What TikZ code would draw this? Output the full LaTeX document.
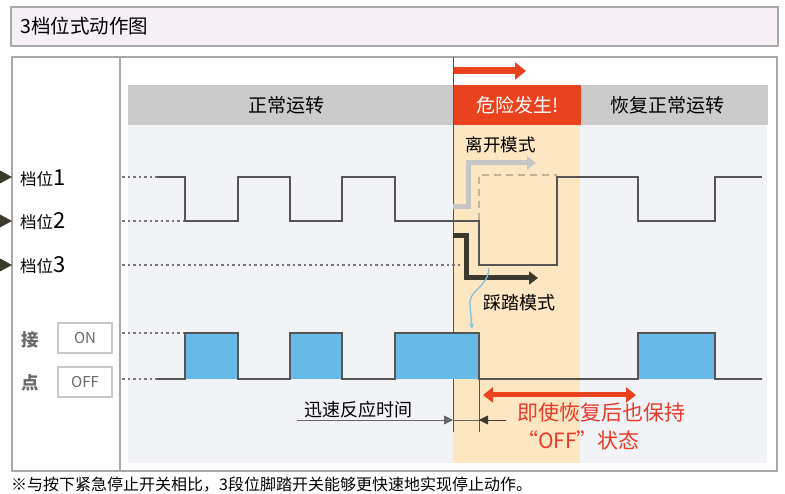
\documentclass[tikz,border=0pt]{standalone}
\usepackage{fontspec}
\setmainfont{Noto Sans CJK SC}
\usetikzlibrary{arrows.meta,positioning,calc}
\definecolor{cTitleBg}{HTML}{F6F0F6}
\definecolor{cFrame}{HTML}{A9A9A9}
\definecolor{cHead}{HTML}{CBCBCB}
\definecolor{cDanger}{HTML}{E8431E}
\definecolor{cPeach}{HTML}{FDE6C2}
\definecolor{cChart}{HTML}{F1F3F6}
\definecolor{cWave}{HTML}{555555}
\definecolor{cOn}{HTML}{67BAE7}
\definecolor{cLeave}{HTML}{C6C6C6}
\definecolor{cPedal}{HTML}{3B3A2C}
\definecolor{cAlert}{HTML}{E83A2A}
\definecolor{cSky}{HTML}{7CC3E4}
\definecolor{cBox}{HTML}{C8C8C8}
\definecolor{cGrey}{HTML}{6A6A6A}
\newcommand{\fsz}[1]{\fontsize{#1}{#1}\selectfont}
\newcommand{\gear}[1]{{\fsz{16.5}档位}{\fsz{22}#1}}

\begin{document}
\begin{tikzpicture}[x=1pt, y=-1pt, font=\fsz{16},
    bar/.style={minimum height=40pt, inner sep=0pt, anchor=north west, font=\fsz{19}},
    wave/.style={draw=cWave, line width=1.6pt, line join=miter},
    guide/.style={draw=cWave!80, line width=1.4pt, dash pattern=on 2.5pt off 3pt},
    onbox/.style={draw=cBox, line width=1.2pt, minimum width=54pt, minimum height=30pt,
                  inner sep=0pt, text=cGrey, font=\fsz{15}},
    thin/.style={draw=cWave!90, line width=0.9pt},
  ]
  \useasboundingbox (0,0) rectangle (785,494);
  % title
  \node[draw=cFrame, line width=2pt, fill=cTitleBg, minimum width=767pt,
        minimum height=39pt, anchor=north west] (titlebox) at (10,6) {};
  \node[anchor=west, font=\fsz{19.5}] (title) at ([xshift=7pt]titlebox.west) {3档位式动作图};
  % frame
  \draw[cFrame, line width=1.5pt, fill=white] (12,57) rectangle (777,471);
  \draw[cFrame, line width=1.2pt] (120,57) -- (120,471);
  \fill[cChart] (128,125) rectangle (767,463);
  % phase bars
  \node[bar, fill=cHead, minimum width=325pt] (normal) at (128,85) {\hspace*{-8pt}正常运转};
  \node[bar, fill=cDanger, text=white, minimum width=127pt, right=0pt of normal] (danger) {危险发生!};
  \node[bar, fill=cHead, minimum width=187pt, right=0pt of danger] (recover) {\hspace*{-14pt}恢复正常运转};
  \fill[cPeach] (danger.south west) rectangle (580,463);
  \coordinate (rs) at (453,71);
  \coordinate (re) at (526,71);
  \draw[cDanger, line width=7pt, -{Triangle[length=11pt,width=17pt]}] (rs) -- (re);
  \draw[cWave, line width=1pt] (453,57) -- (453,432);
  \draw[cWave, line width=1pt] (479,379) -- (479,432);
  % gear labels
  \node[anchor=base west, inner sep=0pt] (g1) at (20,186) {\gear{1}};
  \node[anchor=base west, inner sep=0pt] (g2) at (20,229) {\gear{2}};
  \node[anchor=base west, inner sep=0pt] (g3) at (20,273) {\gear{3}};
  \foreach \lv in {177,221,265}
    \fill[cPedal] (12,\lv) -- ++(-13,-7) -- ++(0,14) -- cycle;
  % contact labels
  \node[font=\fsz{17.5}\bfseries, text=cGrey] (jie) at (30,340) {接};
  \node[font=\fsz{17.5}\bfseries, text=cGrey] (dian) at (30,383) {点};
  \node[onbox] (on) at (85,338) {ON};
  \node[onbox] (off) at (85,382) {OFF};
  % guides
  \draw[guide] (122,177) -- (157,177);
  \draw[guide] (122,221) -- (183,221);
  \draw[guide] (122,265) -- (462,265);
  \draw[guide] (122,333) -- (183,333);
  \draw[guide] (122,379) -- (157,379);
  % contact pulses
  \foreach \a/\b in {185/238,290/342,395/479,638/715}
    \fill[cOn] (\a,333) rectangle (\b,379);
  % leave mode
  \draw[cPedal!30!cPeach, line width=1.6pt, dash pattern=on 7pt off 5pt] (479,220) -- (479,175) -- (557,175);
  \coordinate (ls) at (453,207);
  \coordinate (le) at (536,163);
  \draw[cLeave, line width=5pt, -{Triangle[length=9pt,width=13pt]}]
    (ls) -- (468,207) -- (468,163) -- (le);
  % gear wave
  \draw[wave] (157,177) -- (185,177) -- (185,221) -- (238,221) -- (238,177) -- (290,177)
    -- (290,221) -- (342,221) -- (342,177) -- (395,177) -- (395,221) -- (479,221)
    -- (479,265) -- (557,265) -- (557,177) -- (638,177) -- (638,221) -- (715,221)
    -- (715,177) -- (762,177);
  % contact wave
  \draw[wave] (157,379) -- (185,379) -- (185,333) -- (238,333) -- (238,379) -- (290,379)
    -- (290,333) -- (342,333) -- (342,379) -- (395,379) -- (395,333) -- (479,333)
    -- (479,379) -- (638,379) -- (638,333) -- (715,333) -- (715,379) -- (762,379);
  % pedal mode
  \coordinate (ps) at (453,236);
  \coordinate (pe) at (538,278);
  \draw[cPedal, line width=5pt, -{Triangle[length=9pt,width=13pt]}]
    (ps) -- (466,236) -- (466,278) -- (pe);
  \coordinate (ws) at (489,268);
  \coordinate (we) at (472,329);
  \draw[cSky, line width=1.3pt, -{Stealth[length=6pt,width=5pt]}]
    (ws) .. controls (488,288) and (468,290) .. (470,305) .. controls (471,315) .. (we);
  \node[anchor=west, font=\fsz{17.5}] (leave) at (462,145) {离开模式};
  \node[anchor=west, font=\fsz{18}] (pedal) at (480,303) {踩踏模式};
  % response time
  \node[anchor=south west, inner sep=1pt, font=\fsz{18}] (resp) at (303,419) {迅速反应时间};
  \coordinate (r0) at (297,420);
  \coordinate (r1) at (453,420);
  \coordinate (r2) at (479,420);
  \coordinate (r3) at (506,420);
  \draw[thin, -{Triangle[length=9pt,width=9pt]}] (r0) -- (r1);
  \draw[thin] (r1) -- (r2);
  \draw[thin, -{Triangle[length=9pt,width=9pt]}, draw=cPedal] (r3) -- (r2);
  % kept off
  \coordinate (ks) at (483,395);
  \coordinate (ke) at (636,395);
  \draw[cDanger, line width=5pt, {Triangle[length=10pt,width=15pt]}-{Triangle[length=10pt,width=15pt]}] (ks) -- (ke);
  \node[anchor=north west, align=left, text=cAlert, font=\fsz{21}, inner sep=0pt] (kept) at (517,403)
    {即使恢复后也保持\\[7pt]“OFF”状态};
  % note
  \node[anchor=west, font=\fsz{16}, inner sep=0pt] (note) at (11,485)
    {※与按下紧急停止开关相比，3段位脚踏开关能够更快速地实现停止动作。};
\end{tikzpicture}
\end{document}
